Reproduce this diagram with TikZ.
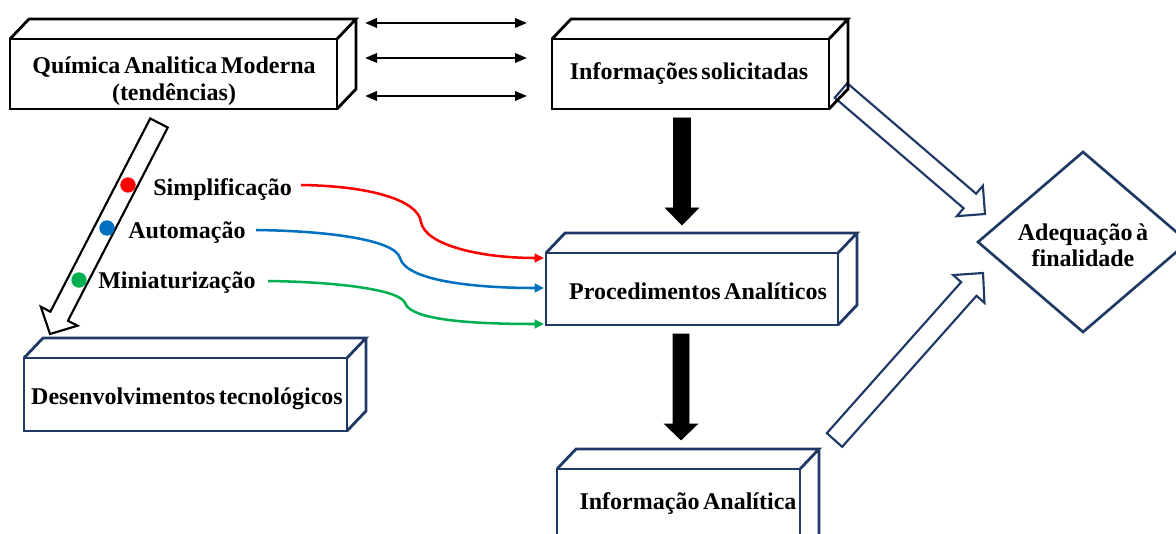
\documentclass[tikz,border=0pt]{standalone}
\usepackage{fontspec}
\setmainfont[WordSpace={0.6,0.5,0.5}]{Liberation Serif}
\usetikzlibrary{calc,fit,shapes.geometric,arrows.meta}
\definecolor{navy}{HTML}{1F3864}
\definecolor{cred}{HTML}{FF0000}
\definecolor{cblue}{HTML}{0070C0}
\definecolor{cgreen}{HTML}{00B050}
\newcommand\tdbox[4]{%
  \node[tdfront, draw=#4, fit={#2#3}] (#1) {};
  \draw[tdside, draw=#4] (#1.north west) -- ++(19,-20) -- ($(#1.north east)+(19,-20)$) coordinate (#1-tr) -- (#1.north east)
     (#1-tr) -- ($(#1.south east)+(19,-20)$) -- (#1.south east);
}
\newcommand\blockarrow[6]{%
  \path ($(#3)!#6!(#2)$) coordinate (hb);
  \draw[#1] ($(#2)!#4!90:(#3)$) -- ($(hb)!#4!90:(#3)$) -- ($(hb)!#5!90:(#3)$) -- (#3)
     -- ($(hb)!#5!-90:(#3)$) -- ($(hb)!#4!-90:(#3)$) -- ($(#2)!#4!-90:(#3)$) -- cycle;
}
\begin{document}
\begin{tikzpicture}[x=0.75pt,y=-0.75pt,
  tdfront/.style={inner sep=0pt, outer sep=0pt, line width=2.1pt, fill=white},
  tdside/.style={line width=2.1pt, line join=miter},
  lbl/.style={font=\bfseries\fontsize{18}{21}\selectfont, inner sep=0pt, text height=12.2pt, text depth=0pt},
  dbl/.style={line width=1.8pt, {Triangle[length=9pt,width=7pt]}-{Triangle[length=9pt,width=7pt]}},
  blk/.style={fill=black, draw=black, line width=0.5pt},
  hollowk/.style={draw=black, fill=white, line width=1.6pt},
  hollown/.style={draw=navy, fill=white, line width=1.6pt},
  feed/.style={line width=1.9pt, -{Triangle[length=7pt,width=6.5pt]}},
  dot/.style={circle, inner sep=0pt, minimum size=11.5pt}
]
\clip (0,0) rectangle (1176,534);

% block arrows
\coordinate (aS) at (159,123); \coordinate (aT) at (50,334);
\blockarrow{hollowk}{aS}{aT}{7.4pt}{15.5pt}{15pt}
\coordinate (bS) at (841,90.5); \coordinate (bT) at (985,214);
\blockarrow{hollown}{bS}{bT}{7.2pt}{15pt}{15pt}
\coordinate (cS) at (834.5,440); \coordinate (cT) at (983,273);
\blockarrow{hollown}{cS}{cT}{7.7pt}{15.7pt}{16pt}
\coordinate (k1S) at (682,118); \coordinate (k1T) at (682,225);
\blockarrow{blk}{k1S}{k1T}{6.4pt}{12.4pt}{12.75pt}
\coordinate (k2S) at (681,334); \coordinate (k2T) at (681,440);
\blockarrow{blk}{k2S}{k2T}{6pt}{12.4pt}{12pt}

% boxes
\tdbox{qam}{(10,39)}{(337,109)}{black}
\node[lbl] (q1) at (174,65) {Química Analitica Moderna};
\node[lbl] (q2) at (174,92) {(tendências)};
\tdbox{inf}{(552,39)}{(829,109)}{black}
\node[lbl] (inft) at (689,71) {Informações solicitadas};
\tdbox{proc}{(546,253)}{(838,325)}{navy}
\node[lbl] (proct) at (698,291) {Procedimentos Analíticos};
\tdbox{dev}{(24,358)}{(347,431)}{navy}
\node[lbl] (devt) at (187,396) {Desenvolvimentos tecnológicos};
\tdbox{ia}{(557,469)}{(800,560)}{navy}
\node[lbl] (iat) at (688,501) {Informação Analítica};

% diamond
\node[diamond, draw=navy, line width=2pt, inner sep=0pt, outer sep=0pt,
      minimum width=157.5pt, minimum height=135pt] (adq) at (1083,242) {};
\node[lbl] (adq1) at (1083,232) {Adequação à};
\node[lbl] (adq2) at (1083,258) {finalidade};

% double arrows
\foreach \i/\yy in {1/23,2/58,3/96}{
  \coordinate (dl\i) at (365,\yy); \coordinate (dr\i) at (527,\yy);
  \draw[dbl] (dl\i) -- (dr\i);
}

% dots and labels
\node[dot, fill=cred] (dr) at (128,185) {};
\node[dot, fill=cblue] (db) at (107,228) {};
\node[dot, fill=cgreen] (dg) at (79,280) {};
\node[lbl, anchor=west] (ls) at (153,187) {Simplificação};
\node[lbl, anchor=west] (la) at (128,230) {Automação};
\node[lbl, anchor=west] (lm) at (98,280) {Miniaturização};

% curves
\coordinate (rs) at (301,185); \coordinate (re) at (544,258);
\coordinate (bs) at (256,230); \coordinate (be) at (544,288);
\coordinate (gs) at (268,281); \coordinate (ge) at (544,324);
\draw[feed, cred] (rs) .. controls (370,186) and (418,200) .. (421,222) .. controls (425,245) and (480,258) .. (re);
\draw[feed, cblue] (bs) .. controls (330,231) and (395,240) .. (400,258) .. controls (406,280) and (470,288) .. (be);
\draw[feed, cgreen] (gs) .. controls (340,282) and (400,290) .. (405,303) .. controls (411,320) and (470,324) .. (ge);
\end{tikzpicture}
\end{document}
